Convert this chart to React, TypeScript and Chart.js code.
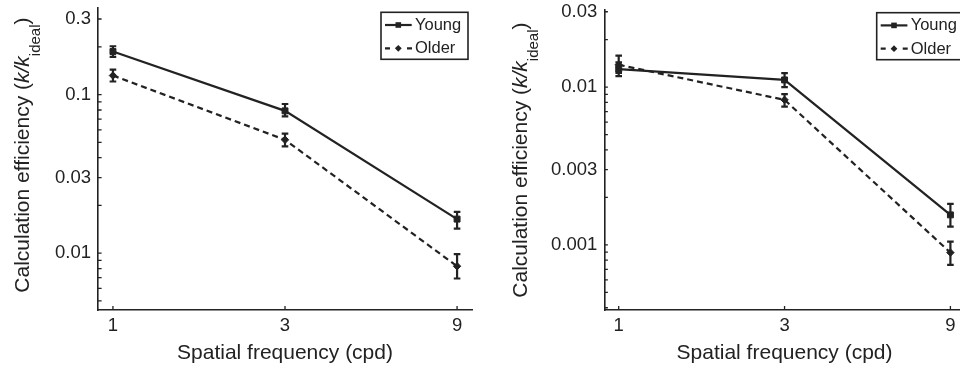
import React, { useEffect, useRef } from "react";
import { Chart, registerables } from "chart.js";

Chart.register(...registerables);

const FONT = "'Liberation Sans', Arial, Helvetica, sans-serif";
const INK = "#222222";

// ---- shared data ----
const frequencies = [1, 3, 9];
const xTickValues = [1, 3, 9];
const seriesNames = ["Young", "Older"];
const xTitle = "Spatial frequency (cpd)";
const yTitleMain = "Calculation efficiency (";
const yTitleItalic = "k/k";
const yTitleSub = "ideal";
const yTitleEnd = ")";

// ---- left panel data ----
const leftYoung = [0.187, 0.079, 0.0164];
const leftYoungLow = [0.173, 0.0729, 0.0143];
const leftYoungHigh = [0.202, 0.0873, 0.0182];
const leftOlder = [0.132, 0.0519, 0.00827];
const leftOlderLow = [0.121, 0.0471, 0.00692];
const leftOlderHigh = [0.144, 0.0567, 0.00985];
const leftYTicks = [0.01, 0.03, 0.1, 0.3];
const leftYRange = [0.00438, 0.352];

// ---- right panel data ----
const rightYoung = [0.013, 0.0111, 0.00155];
const rightYoungLow = [0.01174, 0.01, 0.001306];
const rightYoungHigh = [0.01433, 0.01227, 0.00182];
const rightOlder = [0.01384, 0.0083, 0.000894];
const rightOlderLow = [0.01232, 0.00753, 0.000747];
const rightOlderHigh = [0.0158, 0.00903, 0.00105];
const rightYTicks = [0.001, 0.003, 0.01, 0.03];
const rightYRange = [0.000387, 0.0311];

const xRange = [0.909, 9.9];

type PanelCfg = {
  canvasLeft: number;
  canvasWidth: number;
  padTop: number;
  padRight: number;
  yAxisWidth: number;
  yRange: number[];
  yTicks: number[];
  young: number[];
  youngLow: number[];
  youngHigh: number[];
  older: number[];
  olderLow: number[];
  olderHigh: number[];
  legendLeft: number;
  legendTop: number;
  yTitleX: number;
  yTitleStart: number;
};

const panels: PanelCfg[] = [
  {
    canvasLeft: 0,
    canvasWidth: 480,
    padTop: 8,
    padRight: 8,
    yAxisWidth: 98,
    yRange: leftYRange,
    yTicks: leftYTicks,
    young: leftYoung,
    youngLow: leftYoungLow,
    youngHigh: leftYoungHigh,
    older: leftOlder,
    olderLow: leftOlderLow,
    olderHigh: leftOlderHigh,
    legendLeft: 381,
    legendTop: 12.3,
    yTitleX: 28.5,
    yTitleStart: 292.7,
  },
  {
    canvasLeft: 480,
    canvasWidth: 490,
    padTop: 9.3,
    padRight: 1,
    yAxisWidth: 124.3,
    yRange: rightYRange,
    yTicks: rightYTicks,
    young: rightYoung,
    youngLow: rightYoungLow,
    youngHigh: rightYoungHigh,
    older: rightOlder,
    olderLow: rightOlderLow,
    olderHigh: rightOlderHigh,
    legendLeft: 396.7,
    legendTop: 12.7,
    yTitleX: 46.5,
    yTitleStart: 297.7,
  },
];

const CANVAS_H = 372;
const X_AXIS_H = 62;

function drawSquare(ctx: CanvasRenderingContext2D, x: number, y: number, half: number) {
  ctx.fillRect(x - half, y - half, half * 2, half * 2);
}
function drawDiamond(ctx: CanvasRenderingContext2D, x: number, y: number, r: number) {
  ctx.beginPath();
  ctx.moveTo(x - r, y);
  ctx.lineTo(x, y - r);
  ctx.lineTo(x + r, y);
  ctx.lineTo(x, y + r);
  ctx.closePath();
  ctx.fill();
}

function Panel({ cfg }: { cfg: PanelCfg }) {
  const ref = useRef<HTMLCanvasElement>(null);

  useEffect(() => {
    const canvas = ref.current;
    if (!canvas) return;

    const decorations = {
      id: "decorations",
      afterDatasetsDraw(chart: any) {
        const ctx: CanvasRenderingContext2D = chart.ctx;
        const xs = chart.scales.x;
        const ys = chart.scales.y;
        const groups = [
          [cfg.youngLow, cfg.youngHigh],
          [cfg.olderLow, cfg.olderHigh],
        ];
        ctx.save();
        ctx.strokeStyle = INK;
        ctx.lineWidth = 2.2;
        ctx.setLineDash([]);
        groups.forEach(([low, high]) => {
          frequencies.forEach((f, i) => {
            const px = xs.getPixelForValue(f);
            const pTop = ys.getPixelForValue(high[i]);
            const pBot = ys.getPixelForValue(low[i]);
            ctx.beginPath();
            ctx.moveTo(px, pTop);
            ctx.lineTo(px, pBot);
            ctx.moveTo(px - 3.3, pTop);
            ctx.lineTo(px + 3.3, pTop);
            ctx.moveTo(px - 3.3, pBot);
            ctx.lineTo(px + 3.3, pBot);
            ctx.stroke();
          });
        });
        ctx.restore();
      },
      afterDraw(chart: any) {
        const ctx: CanvasRenderingContext2D = chart.ctx;
        const xs = chart.scales.x;
        const ys = chart.scales.y;
        const area = chart.chartArea;
        ctx.save();
        ctx.strokeStyle = INK;
        ctx.fillStyle = INK;
        ctx.lineWidth = 1.3;
        ctx.setLineDash([]);

        // inward y tick marks (major + minor)
        const [ymin, ymax] = cfg.yRange;
        const e0 = Math.floor(Math.log10(ymin));
        const e1 = Math.ceil(Math.log10(ymax));
        ctx.beginPath();
        for (let e = e0; e <= e1; e++) {
          for (let m = 1; m <= 9; m++) {
            const v = m * Math.pow(10, e);
            if (v < ymin || v > ymax) continue;
            const py = ys.getPixelForValue(v);
            ctx.moveTo(area.left, py);
            ctx.lineTo(area.left + 3.6, py);
          }
        }
        // inward x tick marks
        xTickValues.forEach((v) => {
          const px = xs.getPixelForValue(v);
          ctx.moveTo(px, area.bottom);
          ctx.lineTo(px, area.bottom - 4);
        });
        ctx.stroke();

        // legend
        const L = cfg.legendLeft;
        const T = cfg.legendTop;
        ctx.lineWidth = 1.6;
        ctx.strokeRect(L, T, 87, 47);
        const rows = [T + 12.7, T + 36];
        ctx.lineWidth = 2.2;
        // Young row
        ctx.beginPath();
        ctx.moveTo(L + 4, rows[0]);
        ctx.lineTo(L + 30.7, rows[0]);
        ctx.stroke();
        drawSquare(ctx, L + 17.3, rows[0], 2.8);
        // Older row
        ctx.setLineDash([5, 17]);
        ctx.beginPath();
        ctx.moveTo(L + 4, rows[1]);
        ctx.lineTo(L + 31, rows[1]);
        ctx.stroke();
        ctx.setLineDash([]);
        drawDiamond(ctx, L + 17.3, rows[1], 3.4);
        ctx.font = `16.5px ${FONT}`;
        ctx.textAlign = "left";
        ctx.textBaseline = "middle";
        ctx.fillText(seriesNames[0], L + 34, rows[0] + 0.5);
        ctx.fillText(seriesNames[1], L + 34, rows[1] + 0.5);

        // x title
        ctx.font = `21px ${FONT}`;
        ctx.textAlign = "center";
        ctx.textBaseline = "alphabetic";
        ctx.fillText(xTitle, (area.left + area.right) / 2, 359);

        // y title (rotated, with italic k/k and subscript)
        ctx.translate(cfg.yTitleX, cfg.yTitleStart);
        ctx.rotate(-Math.PI / 2);
        ctx.textAlign = "left";
        let cx = 0;
        ctx.font = `21px ${FONT}`;
        ctx.fillText(yTitleMain, cx, 0);
        cx += ctx.measureText(yTitleMain).width;
        ctx.font = `italic 21px ${FONT}`;
        ctx.fillText(yTitleItalic, cx, 0);
        cx += ctx.measureText(yTitleItalic).width;
        ctx.font = `15px ${FONT}`;
        ctx.fillText(yTitleSub, cx, 11.7);
        cx += ctx.measureText(yTitleSub).width;
        ctx.font = `21px ${FONT}`;
        ctx.fillText(yTitleEnd, cx, 0);
        ctx.restore();
      },
    };

    const tickFont = { family: FONT, size: 18.5 };

    const chart = new Chart(canvas, {
      type: "line",
      data: {
        datasets: [
          {
            label: seriesNames[0],
            data: frequencies.map((f, i) => ({ x: f, y: cfg.young[i] })),
            borderColor: INK,
            backgroundColor: INK,
            borderWidth: 2.2,
            tension: 0,
            fill: false,
            pointStyle: "rect",
            pointRadius: 4.2,
            pointBorderWidth: 1,
            pointBorderColor: INK,
            pointBackgroundColor: INK,
          },
          {
            label: seriesNames[1],
            data: frequencies.map((f, i) => ({ x: f, y: cfg.older[i] })),
            borderColor: INK,
            backgroundColor: INK,
            borderWidth: 2.2,
            borderDash: [6, 4],
            tension: 0,
            fill: false,
            pointStyle: "rectRot",
            pointRadius: 3.7,
            pointBorderWidth: 1,
            pointBorderColor: INK,
            pointBackgroundColor: INK,
          },
        ],
      },
      options: {
        responsive: false,
        maintainAspectRatio: false,
        animation: false,
        devicePixelRatio: 1,
        events: [],
        layout: { padding: { left: 0, top: cfg.padTop, right: cfg.padRight, bottom: 0 } },
        plugins: {
          legend: { display: false },
          title: { display: false },
          tooltip: { enabled: false },
        },
        scales: {
          x: {
            type: "logarithmic",
            min: xRange[0],
            max: xRange[1],
            afterBuildTicks: (s: any) => {
              s.ticks = xTickValues.map((v) => ({ value: v }));
            },
            afterFit: (s: any) => {
              s.height = X_AXIS_H;
              s.paddingLeft = 0;
              s.paddingRight = 0;
            },
            ticks: {
              autoSkip: false,
              maxRotation: 0,
              minRotation: 0,
              padding: 5,
              font: tickFont,
              color: INK,
              callback: (v: any) => String(v),
            },
            grid: { display: false, drawTicks: false },
            border: { display: true, color: INK, width: 1.6 },
          },
          y: {
            type: "logarithmic",
            min: cfg.yRange[0],
            max: cfg.yRange[1],
            afterBuildTicks: (s: any) => {
              s.ticks = cfg.yTicks.map((v) => ({ value: v }));
            },
            afterFit: (s: any) => {
              s.width = cfg.yAxisWidth;
              s.paddingTop = 0;
              s.paddingBottom = 0;
            },
            ticks: {
              autoSkip: false,
              padding: 7,
              font: tickFont,
              color: INK,
              callback: (v: any) => String(v),
            },
            grid: { display: false, drawTicks: false },
            border: { display: true, color: INK, width: 1.6 },
          },
        },
      } as any,
      plugins: [decorations as any],
    });

    return () => chart.destroy();
  }, [cfg]);

  return (
    <canvas
      ref={ref}
      width={cfg.canvasWidth}
      height={CANVAS_H}
      style={{
        position: "absolute",
        left: cfg.canvasLeft,
        top: 0,
        width: cfg.canvasWidth,
        height: CANVAS_H,
      }}
    />
  );
}

export default function App() {
  return (
    <div
      style={{
        position: "fixed",
        left: 0,
        top: 0,
        width: 960,
        height: CANVAS_H,
        overflow: "hidden",
        background: "#ffffff",
      }}
    >
      {panels.map((p, i) => (
        <Panel key={i} cfg={p} />
      ))}
    </div>
  );
}
